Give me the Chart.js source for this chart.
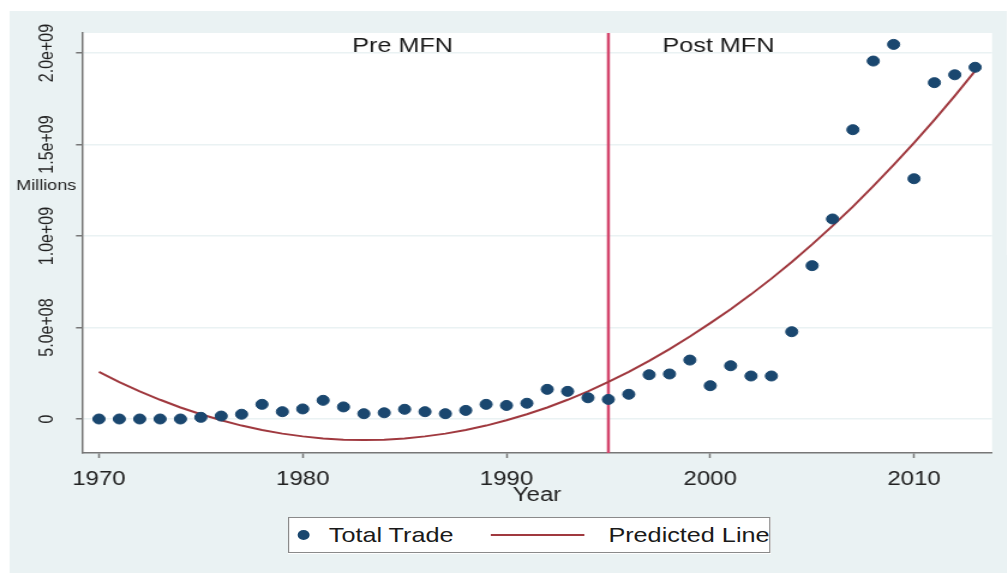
<!DOCTYPE html>
<html>
<head>
<meta charset="utf-8">
<script src="https://cdn.jsdelivr.net/npm/chart.js@4/dist/chart.umd.min.js"></script>
<style>
  html, body { margin: 0; padding: 0; background: #fff; }
  body { width: 1007px; height: 573px; overflow: hidden; position: relative; font-family: 'Liberation Sans', Arial, sans-serif; }
  /* the reference is a stretched Stata export, so the whole figure is scaled horizontally */
  #wrap { position: absolute; left: 0; top: 0; width: 839px; height: 573px; transform: scaleX(1.2); transform-origin: 0 0; }
  #panel { position: absolute; left: 7.5px; top: 11px; right: 0; bottom: 0; background: #eaf2f3; }
  #c { position: absolute; left: 0; top: 0; }
  #legend { position: absolute; left: 240px; top: 517px; width: 400px; height: 34px; background: #fff; border: 1px solid #8a8a8a; color: #1a1a1a; font-size: 21px; }
  #legend span { position: absolute; }
  #legend .lbl { top: 0; line-height: 34px; white-space: nowrap; }
  #legend .dot { left: 7px; top: 12px; width: 10px; height: 10px; border-radius: 50%; background: #1a476f; }
  #legend .ln { left: 168px; top: 16px; width: 78px; height: 2px; background: #a0393f; }
</style>
</head>
<body>
<div id="wrap">
  <div id="panel"></div>
  <canvas id="c" width="839" height="573"></canvas>
  <div id="legend">
    <span class="dot"></span><span class="lbl" style="left:33px">Total Trade</span>
    <span class="ln"></span><span class="lbl" style="left:266px">Predicted Line</span>
  </div>
</div>
<script>
// data
const years = [1970, 1971, 1972, 1973, 1974, 1975, 1976, 1977, 1978, 1979,
  1980, 1981, 1982, 1983, 1984, 1985, 1986, 1987, 1988, 1989,
  1990, 1991, 1992, 1993, 1994, 1995, 1996, 1997, 1998, 1999,
  2000, 2001, 2002, 2003, 2004, 2005, 2006, 2007, 2008, 2009,
  2010, 2011, 2012, 2013];
const totalTrade = [0, 0, 0, 0, 0, 0.009e9, 0.016e9, 0.026e9, 0.080e9, 0.040e9,
  0.055e9, 0.102e9, 0.066e9, 0.029e9, 0.034e9, 0.053e9, 0.040e9, 0.029e9, 0.047e9, 0.080e9,
  0.074e9, 0.086e9, 0.162e9, 0.151e9, 0.116e9, 0.107e9, 0.135e9, 0.242e9, 0.246e9, 0.322e9,
  0.182e9, 0.291e9, 0.235e9, 0.235e9, 0.477e9, 0.838e9, 1.093e9, 1.581e9, 1.956e9, 2.047e9,
  1.313e9, 1.838e9, 1.881e9, 1.922e9];
const predicted = [0.257e9, 0.202e9, 0.151e9, 0.105e9, 0.063e9, 0.026e9, -0.007e9, -0.036e9, -0.060e9, -0.080e9,
  -0.095e9, -0.106e9, -0.113e9, -0.115e9, -0.113e9, -0.106e9, -0.095e9, -0.080e9, -0.060e9, -0.036e9,
  -0.007e9, 0.026e9, 0.063e9, 0.105e9, 0.151e9, 0.203e9, 0.258e9, 0.318e9, 0.382e9, 0.451e9,
  0.524e9, 0.600e9, 0.681e9, 0.767e9, 0.858e9, 0.954e9, 1.055e9, 1.161e9, 1.272e9, 1.388e9,
  1.509e9, 1.635e9, 1.766e9, 1.902e9];
const xTicks = [1970, 1980, 1990, 2000, 2010];
const yTicks = [0, 5e8, 1e9, 1.5e9, 2e9];
const yTickLabels = ['0', '5.0e+08', '1.0e+09', '1.5e+09', '2.0e+09'];
const breakYear = 1995;
const periodLabels = [['Pre MFN', 1984.9], ['Post MFN', 2000.4]];

Chart.defaults.font.family = "'Liberation Sans', Arial, sans-serif";
Chart.defaults.color = '#222';

const decor = {
  id: 'decor',
  beforeDraw(chart) {
    const { ctx, chartArea: a } = chart;
    ctx.save();
    ctx.fillStyle = '#fff';
    ctx.fillRect(a.left, a.top, a.right - a.left, a.bottom - a.top);
    ctx.restore();
  },
  beforeDatasetsDraw(chart) {
    const { ctx, chartArea: a, scales } = chart;
    const x = scales.x.getPixelForValue(breakYear);
    ctx.save();
    ctx.strokeStyle = '#d4456c';
    ctx.lineWidth = 2.5;
    ctx.beginPath();
    ctx.moveTo(x, a.top);
    ctx.lineTo(x, a.bottom);
    ctx.stroke();
    ctx.restore();
  },
  afterDraw(chart) {
    const { ctx, chartArea: a, scales } = chart;
    ctx.save();
    ctx.fillStyle = '#222';
    // rotated y tick labels
    ctx.font = "16px 'Liberation Sans', Arial, sans-serif";
    ctx.textAlign = 'center';
    ctx.textBaseline = 'middle';
    yTicks.forEach((v, i) => {
      ctx.save();
      ctx.translate(40, scales.y.getPixelForValue(v));
      ctx.rotate(-Math.PI / 2);
      ctx.fillText(yTickLabels[i], 0, 0);
      ctx.restore();
    });
    ctx.font = "15px 'Liberation Sans', Arial, sans-serif";
    ctx.fillText('Millions', 38.5, 186);
    ctx.font = "20px 'Liberation Sans', Arial, sans-serif";
    ctx.fillText('Year', (a.left + a.right) / 2, 495);
    ctx.fillStyle = '#1a1a1a';
    ctx.font = "21px 'Liberation Sans', Arial, sans-serif";
    periodLabels.forEach(([t, yr]) => {
      ctx.fillText(t, scales.x.getPixelForValue(yr), a.top + 13);
    });
    ctx.restore();
  }
};

new Chart(document.getElementById('c').getContext('2d'), {
  type: 'scatter',
  data: {
    datasets: [
      {
        label: 'Total Trade',
        data: years.map((y, i) => ({ x: y, y: totalTrade[i] })),
        backgroundColor: '#1a476f',
        borderColor: '#1a476f',
        pointRadius: 5,
        pointHoverRadius: 5
      },
      {
        label: 'Predicted Line',
        data: years.map((y, i) => ({ x: y, y: predicted[i] })),
        showLine: true,
        borderColor: '#a0393f',
        borderWidth: 2,
        pointRadius: 0,
        tension: 0
      }
    ]
  },
  options: {
    responsive: false,
    animation: false,
    devicePixelRatio: 1,
    layout: { padding: { top: 33, right: 12.3, left: 0, bottom: 0 } },
    plugins: { legend: { display: false }, tooltip: { enabled: false } },
    scales: {
      x: {
        type: 'linear',
        min: 1969.166,
        max: 2013.83,
        afterBuildTicks: s => { s.ticks = xTicks.map(v => ({ value: v })); },
        afterFit: s => { s.height = 120; },
        ticks: { font: { size: 20 }, color: '#222', padding: 9, callback: v => String(v) },
        grid: { drawOnChartArea: false, tickLength: 5, tickColor: '#777', tickWidth: 1.5 },
        border: { color: '#777', width: 1.5 }
      },
      y: {
        min: -1.858e8,
        max: 2.1093e9,
        afterBuildTicks: s => { s.ticks = yTicks.map(v => ({ value: v })); },
        afterFit: s => { s.width = 68.3; },
        ticks: { display: false },
        grid: { color: '#eaf2f3', lineWidth: 1.5, tickLength: 5, tickColor: '#777', tickWidth: 1.5 },
        border: { color: '#777', width: 1.5 }
      }
    }
  },
  plugins: [decor]
});
</script>
</body>
</html>
